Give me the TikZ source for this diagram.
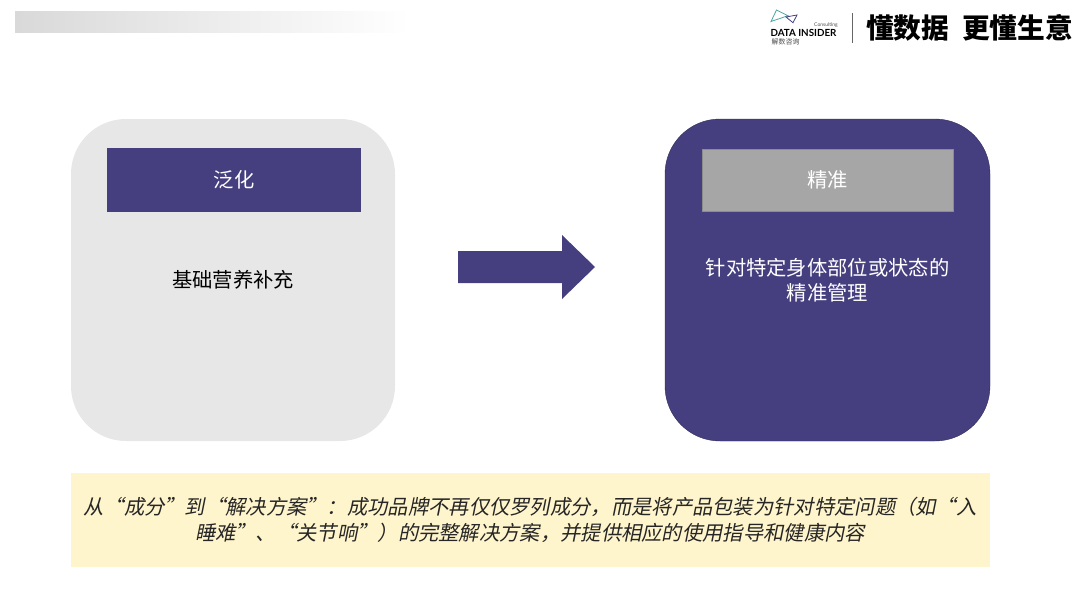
\documentclass[tikz,border=0pt]{standalone}
\usepackage{fontspec}
\setmainfont{Noto Sans CJK SC}
\newfontfamily\cjkslant[FakeSlant=0.2]{Noto Sans CJK SC}
\newfontfamily\logofont{Lato}
\usetikzlibrary{shadings}
\definecolor{navy}{HTML}{453F7F}
\definecolor{panelgray}{HTML}{E7E7E7}
\definecolor{headgray}{HTML}{A6A6A6}
\definecolor{notefill}{HTML}{FFF5CC}
\begin{document}
\begin{tikzpicture}[x=1pt, y=-1pt,
    panel/.style={rounded corners=55pt},
    head/.style={minimum width=254pt, minimum height=64pt, inner sep=0pt, text=white, font=\fontsize{20.3}{24}\selectfont},
    body/.style={align=center, inner sep=0pt, font=\fontsize{20.3}{24.5}\selectfont}]

    \useasboundingbox (0,0) rectangle (1080,608);

    % Top bar and logo
    \shade[left color=black!15, right color=white] (15,11) rectangle (410,32);
    \draw[teal!70, line width=0.8pt] (771,21.5) -- (776.5,10) -- (788,15.7) -- cycle;
    \draw[navy, line width=0.8pt] (786,17) -- (797,15) -- (793,22.7) -- cycle;
    \node[inner sep=0pt, font=\logofont\bfseries\fontsize{9.8}{12}\selectfont] (brand) at (803.5,33) {DATA INSIDER};
    \node[inner sep=0pt, font=\logofont\fontsize{5}{6}\selectfont, text=black!70] (consult) at (826,25) {Consulting};
    \node[inner sep=0pt, font=\fontsize{7}{8}\selectfont, text=black!70] (brandcn) at (785.5,42) {解数咨询};
    \draw[black!60, line width=0.8pt] (852,13) -- (852,43);
    \node[inner sep=0pt, font=\fontsize{27.7}{30}\bfseries\selectfont] (slogan) at (969.5,28) {懂数据\hspace{13pt}更懂生意};

    % Left panel
    \fill[panelgray, panel] (71,119) rectangle (395,441);
    \node[head, fill=navy] (fanhua) at (234,180) {泛化};
    \node[body] (fanhuatext) at (233,280) {基础营养补充};

    % Right panel
    \filldraw[fill=navy, draw=navy!70!black, panel] (665,119) rectangle (990,441);
    \node[head, fill=headgray, draw=black!45, line width=0.3pt, minimum width=251pt, minimum height=62pt] (jingzhun) at (827.5,180) {精准};
    \node[body, text=white] (jingzhuntext) at (827.5,280) {针对特定身体部位或状态的\\精准管理};

    % Block arrow
    \fill[navy] (458,251) -- (562,251) -- (562,235) -- (595,267) -- (562,299) -- (562,283) -- (458,283) -- cycle;

    % Note
    \node[fill=notefill, minimum width=919pt, minimum height=94pt, inner sep=0pt] (note) at (530.5,520) {};
    \node[body, text=black!85, font=\cjkslant\fontsize{20.3}{26}\selectfont] (notetext) at (530,520) {从“成分”到“解决方案”：成功品牌不再仅仅罗列成分，而是将产品包装为针对特定问题（如“入\\睡难”、“关节响”）的完整解决方案，并提供相应的使用指导和健康内容};

\end{tikzpicture}
\end{document}
